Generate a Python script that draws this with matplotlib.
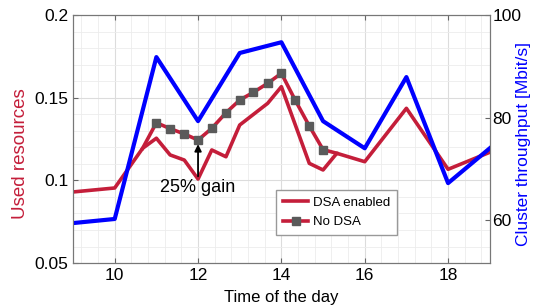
import matplotlib
matplotlib.use('Agg')
import matplotlib.pyplot as plt
import numpy as np

plt.rcParams['font.family'] = ['Liberation Sans', 'DejaVu Sans']

# time of day (hours); 20-minute steps where the curves have them
hours_dsa = [9, 10, 10.67, 11, 11.33, 11.67, 12, 12.33, 12.67, 13, 13.67, 14,
             14.67, 15, 15.33, 16, 17, 18, 19]
res_dsa = [0.093, 0.0954, 0.1194, 0.1255, 0.1154, 0.1123, 0.1008, 0.1184, 0.1143,
           0.1335, 0.1466, 0.1567, 0.1103, 0.1063, 0.1164, 0.1113, 0.1436, 0.1067, 0.117]

hours_nodsa = [10.67, 11, 11.33, 11.67, 12, 12.33, 12.67, 13, 13.33, 13.67, 14,
               14.33, 14.67, 15, 15.33]
res_nodsa = [0.1194, 0.1349, 0.1313, 0.1281, 0.1244, 0.1315, 0.1409, 0.1486, 0.1533,
             0.1587, 0.1648, 0.1486, 0.1329, 0.1186, 0.1164]

hours_tp = [9, 10, 11, 12, 13, 14, 15, 16, 17, 18, 19]
throughput = [59.4, 60.2, 91.8, 79.3, 92.6, 94.7, 79.3, 74.0, 87.9, 67.2, 74.0]

red = '#c41e3a'
blue = '#0000ff'

fig = plt.figure(figsize=(5.37, 3.08), dpi=100)
ax = fig.add_axes([0.136, 0.146, 0.776, 0.805])

ax.plot(hours_nodsa, res_nodsa, color=red, lw=2.6, marker='s', ms=5.5,
        mfc='#5a5a5a', mec='#5a5a5a', markevery=list(range(1, len(hours_nodsa) - 1)),
        label='No DSA', zorder=3)
ax.plot(hours_dsa, res_dsa, color=red, lw=2.6, label='DSA enabled', zorder=3)

# gain arrow
ax.annotate('', xy=(12, 0.1236), xytext=(12, 0.1008),
            arrowprops=dict(arrowstyle='-|>', color='black', lw=1.3, mutation_scale=10),
            zorder=4)
ax.text(12, 0.0955, '25% gain', ha='center', va='center', fontsize=13, zorder=5)

ax.set_xlim(9, 19)
ax.set_ylim(0.05, 0.2)
ax.set_xticks([10, 12, 14, 16, 18])
ax.set_xticks(np.arange(9.2, 19, 0.4), minor=True)
ax.set_yticks([0.05, 0.1, 0.15, 0.2])
ax.set_yticklabels(['0.05', '0.1', '0.15', '0.2'])
ax.set_yticks(np.arange(0.05, 0.2, 0.01), minor=True)
ax.grid(which='major', color='#dcdcdc', lw=0.8)
ax.grid(which='minor', color='#ececec', lw=0.6)
ax.set_axisbelow(True)
ax.tick_params(which='both', direction='in', top=True, labelsize=12.5, color='#666666')
ax.tick_params(which='minor', length=0)
ax.set_xlabel('Time of the day', fontsize=12, labelpad=5)
ax.set_ylabel('Used resources', color=red, fontsize=13.5)
ax.yaxis.set_label_coords(-0.105, 0.44)
for s in ax.spines.values():
    s.set_color('#777777')

ax.legend(handles=[ax.lines[1], ax.lines[0]], loc='lower left',
          bbox_to_anchor=(0.488, 0.113), fontsize=9.5, fancybox=False,
          edgecolor='#999999', framealpha=1, handlelength=1.9, borderpad=0.5,
          labelspacing=0.55, handletextpad=0.35, borderaxespad=0)

ax2 = ax.twinx()
ax2.plot(hours_tp, throughput, color=blue, lw=3.0)
ax2.set_ylim(51.6, 100)
ax2.set_yticks([60, 80, 100])
ax2.tick_params(direction='in', labelsize=12.5, color='#666666', pad=2)
ax2.set_ylabel('Cluster throughput [Mbit/s]', color=blue, fontsize=12.5)
ax2.yaxis.set_label_coords(1.062, 0.48)
for s in ax2.spines.values():
    s.set_color('#777777')

fig.savefig('out.png', dpi=100)
